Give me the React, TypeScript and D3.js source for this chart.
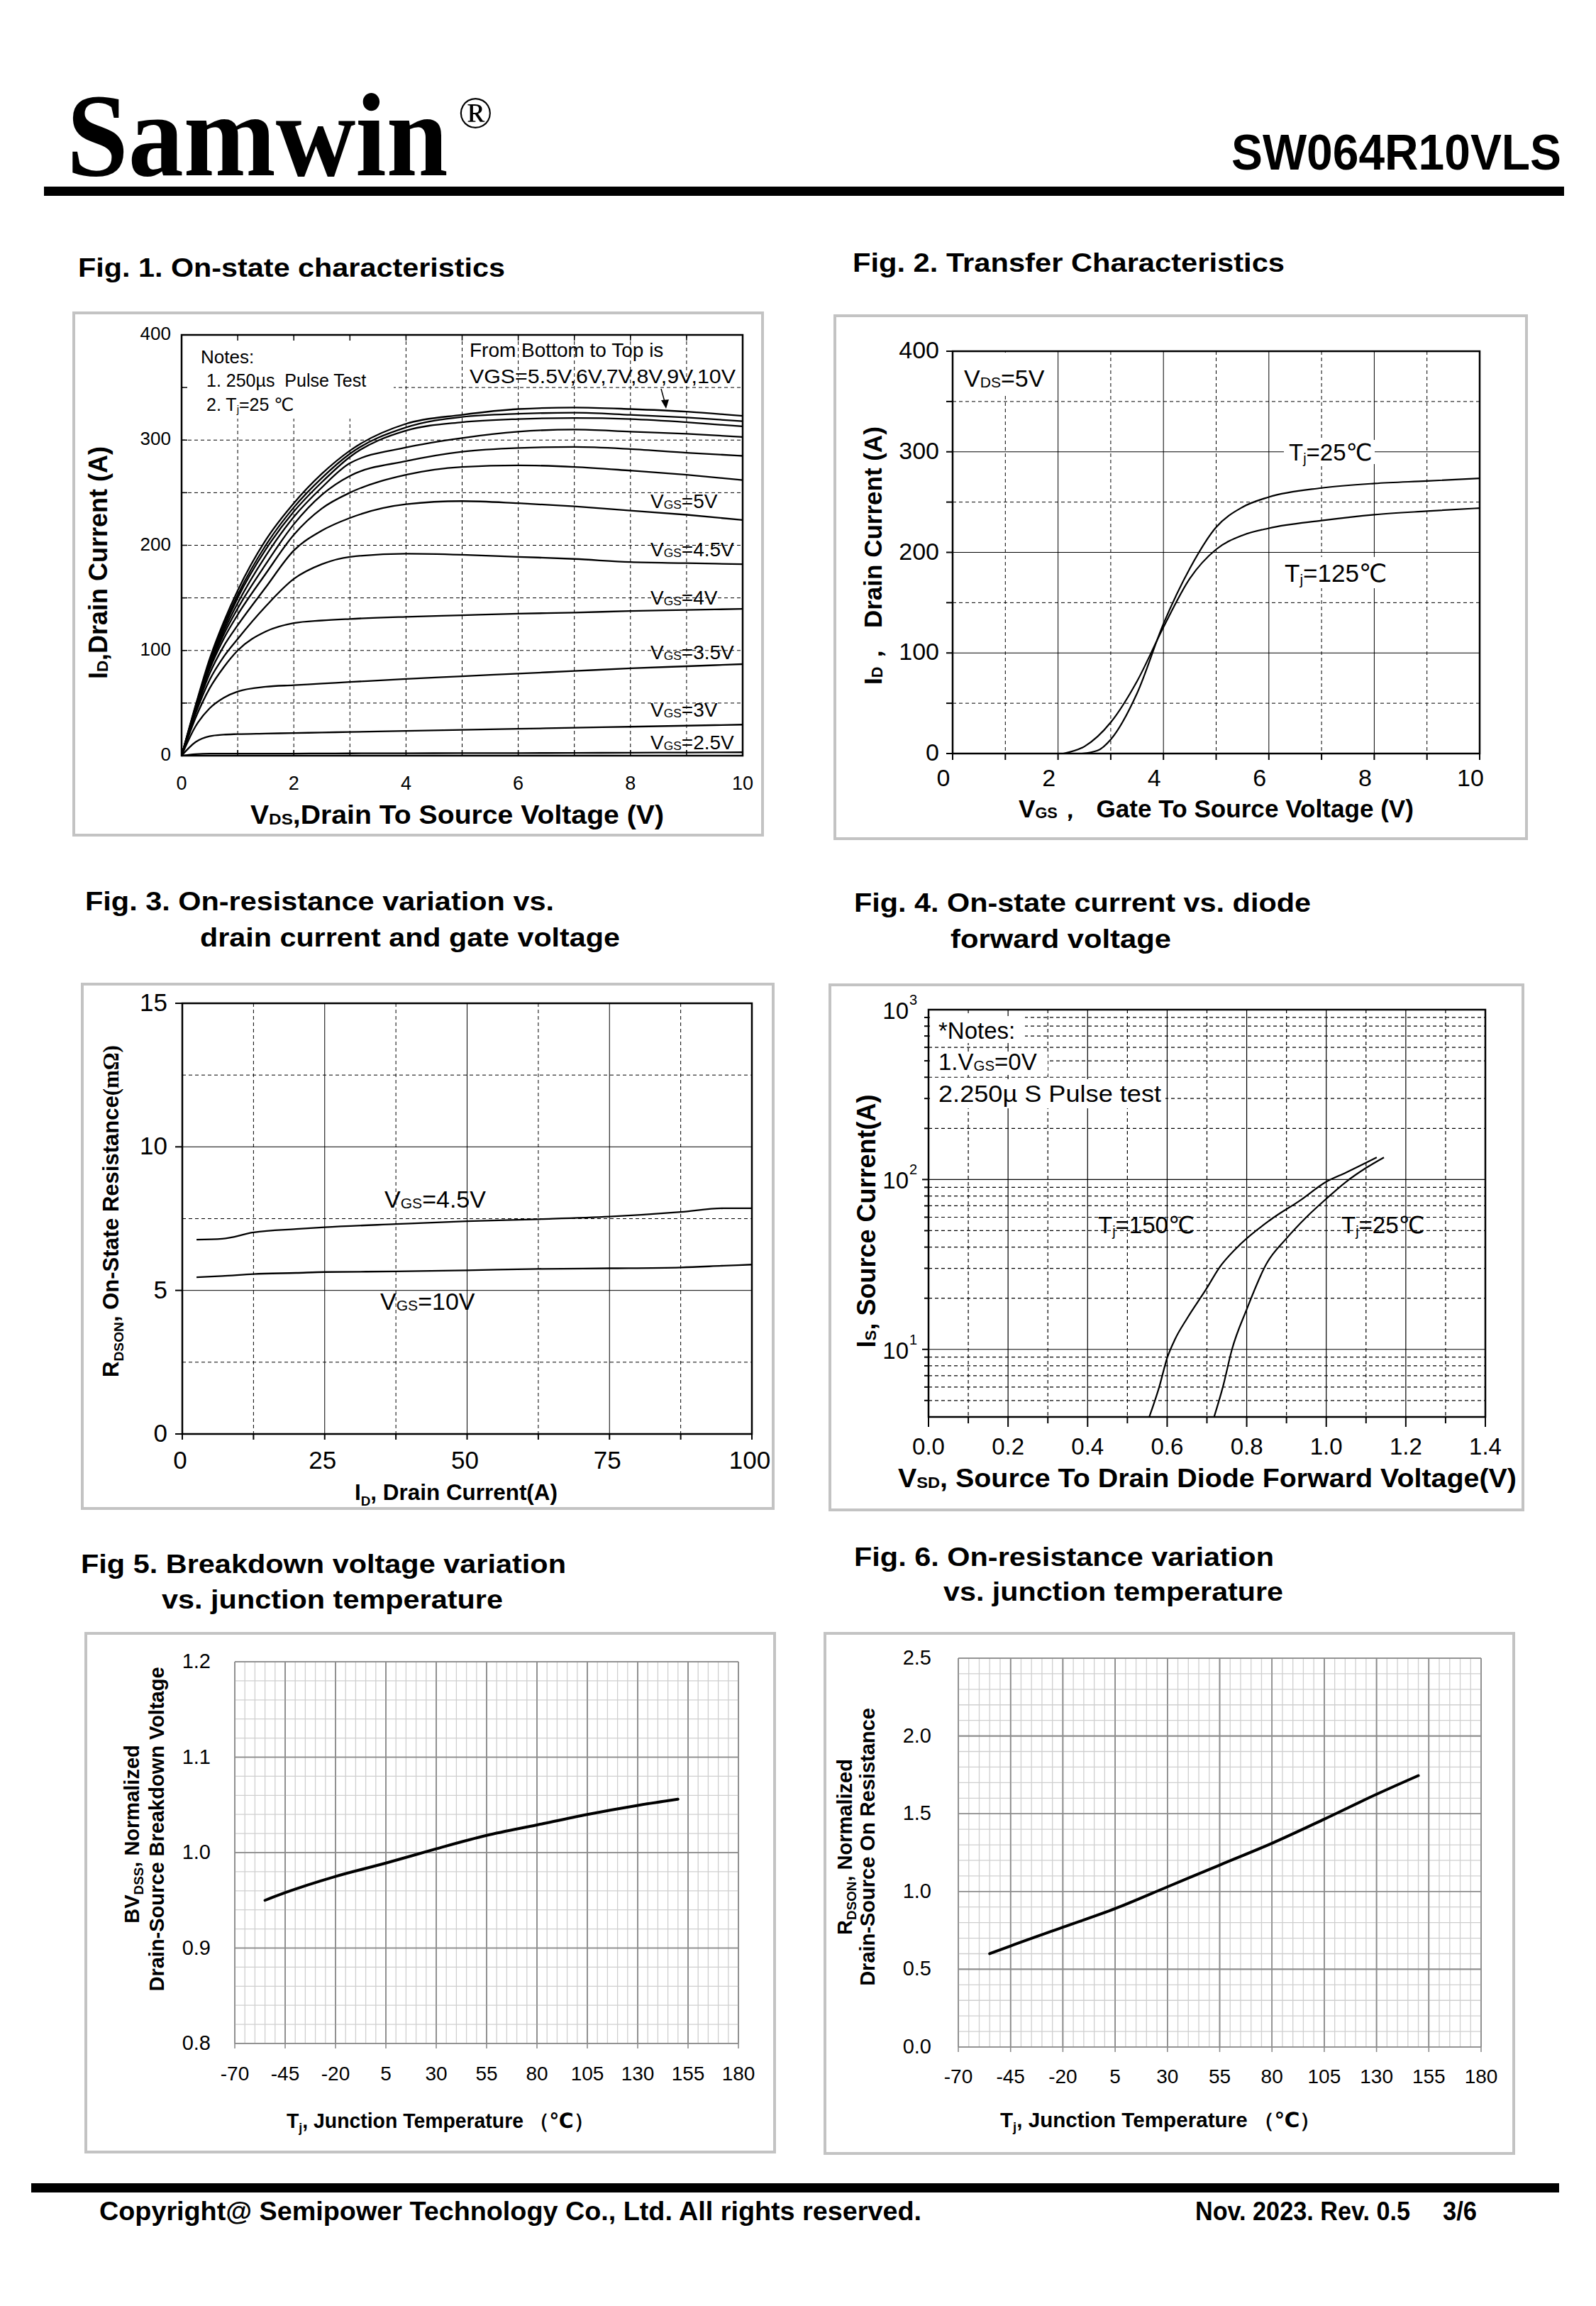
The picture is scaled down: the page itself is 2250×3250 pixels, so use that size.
import React from 'react';
import * as d3 from 'd3';

const SANS = '"Liberation Sans", Arial, Helvetica, "DejaVu Sans", sans-serif';
const SERIF = '"Liberation Serif", "Times New Roman", serif';

// ---------------- Fig 1 data (Id vs Vds) ----------------
const fig1Vds = [0, 0.25, 0.5, 0.75, 1, 1.5, 2, 2.5, 3, 4, 5, 6, 7, 8, 9, 10];
const fig1Id10V = [0, 48, 92, 127, 157, 205, 240, 268, 290, 315.5, 324, 329.5, 331, 329.5, 327, 323];
const fig1Id9V = [0, 47, 90, 124, 153, 200, 236, 264, 287, 312, 322, 325, 326, 324, 321.5, 318];
const fig1Id8V = [0, 46, 88, 121, 150, 196, 232, 260, 284, 309, 317, 320, 321, 320, 317, 313];
const fig1Id7V = [0, 45, 86, 118, 145, 190, 227, 255, 278, 293, 302, 308, 310, 308, 306, 303];
const fig1Id6V = [0, 44, 84, 115, 140, 182, 220, 248, 266, 280, 289, 292.5, 293.5, 291.5, 288, 285];
const fig1Id55V = [0, 43, 82, 111, 134, 173, 210, 235, 250, 267, 274.5, 276, 274.5, 271, 267, 262];
const fig1Id5V = [0, 42, 78, 104, 124, 160, 195, 214, 226, 239, 242, 240, 237, 233, 229, 224];
const fig1Id45V = [0, 40, 72, 94, 111, 142, 168, 182, 189, 192, 191, 189, 187, 184, 183, 182];
const fig1Id4V = [0, 36, 64, 84, 100, 118, 126, 128.5, 130, 132, 133.5, 135, 136, 137.5, 138.5, 139.5];
const fig1Id35V = [0, 28, 45, 55, 61, 65.5, 67, 68.5, 70, 73, 75.5, 78, 80.5, 83, 85, 87];
const fig1Id3V = [0, 13, 18.5, 20, 20.5, 21, 21.5, 22, 22.5, 23.5, 24.5, 25.5, 26.5, 27.5, 28.5, 29.5];
const fig1Id25V = [0, 1.5, 2, 2, 2, 2, 2, 2.1, 2.2, 2.3, 2.4, 2.5, 2.6, 2.8, 3, 3.2];
const fig1Series = [fig1Id10V, fig1Id9V, fig1Id8V, fig1Id7V, fig1Id6V, fig1Id55V, fig1Id5V, fig1Id45V, fig1Id4V, fig1Id35V, fig1Id3V, fig1Id25V];
const fig1Labels = ['5V', '4.5V', '4V', '3.5V', '3V', '2.5V'];
const fig1XTicks = [0, 2, 4, 6, 8, 10];
const fig1YTicks = [0, 100, 200, 300, 400];

// ---------------- Fig 2 data (transfer) ----------------
const fig2Vgs25 = [2.45, 2.75, 3, 3.5, 4, 4.5, 5, 5.5, 6, 7, 8, 9, 10];
const fig2Id25 = [0, 3, 14, 60, 129, 184, 225, 245, 255, 264, 268.5, 271, 273.6];
const fig2Vgs125 = [2.1, 2.5, 3, 3.5, 4, 4.5, 5, 5.5, 6, 7, 8, 9, 10];
const fig2Id125 = [0, 7, 31, 72, 125.6, 174, 203, 217, 224, 231.6, 237.5, 241, 244];
const fig2XTicks = [0, 2, 4, 6, 8, 10];
const fig2YTicks = [0, 100, 200, 300, 400];

// ---------------- Fig 3 data (Rdson vs Id) ----------------
const fig3Id = [2.5, 7, 12.5, 20, 25, 37.5, 50, 62.5, 75, 87.5, 95, 100];
const fig3R45 = [6.77, 6.8, 7.02, 7.14, 7.2, 7.31, 7.41, 7.48, 7.57, 7.73, 7.86, 7.86];
const fig3R10 = [5.46, 5.5, 5.57, 5.61, 5.64, 5.66, 5.7, 5.75, 5.77, 5.8, 5.86, 5.9];
const fig3XTicks = [0, 25, 50, 75, 100];
const fig3YTicks = [0, 5, 10, 15];

// ---------------- Fig 4 data (diode) ----------------
const fig4V150 = [0.555, 0.58, 0.6, 0.62, 0.65, 0.7, 0.73, 0.786, 0.86, 0.935, 1.0, 1.05, 1.127];
const fig4I150 = [4, 6, 8.9, 11.5, 15.2, 23, 30, 42, 58, 75.5, 97, 110, 135];
const fig4V25 = [0.718, 0.74, 0.763, 0.8, 0.85, 0.9, 0.95, 1.0, 1.05, 1.1, 1.145];
const fig4I25 = [4, 6, 10, 17.2, 32, 45, 60, 77, 97, 117, 135];
const fig4XTicks = [0, 0.2, 0.4, 0.6, 0.8, 1.0, 1.2, 1.4];
const fig4YDecades = [1, 2, 3];

// ---------------- Fig 5 / 6 data ----------------
const tempTicks = [-70, -45, -20, 5, 30, 55, 80, 105, 130, 155, 180];
const fig5T = [-55, -45, -20, 5, 30, 55, 80, 105, 130, 150];
const fig5BV = [0.95, 0.958, 0.975, 0.989, 1.004, 1.018, 1.029, 1.04, 1.0495, 1.056];
const fig5YTicks = ['0.8', '0.9', '1.0', '1.1', '1.2'];
const fig6T = [-55, -45, -20, 5, 30, 55, 80, 105, 130, 150];
const fig6R = [0.6, 0.65, 0.77, 0.89, 1.03, 1.17, 1.31, 1.465, 1.625, 1.745];
const fig6YTicks = ['0.0', '0.5', '1.0', '1.5', '2.0', '2.5'];

type Seg = string | [string, 'sub' | 'sup' | 'serif'];

function Txt(p: {
  x: number; y: number; size: number; bold?: boolean; anchor?: string; len?: number; rot?: boolean;
  segs: Seg[]; small?: number; shift?: number; family?: string; fill?: string; baseline?: string; transform?: string;
}) {
  const { x, y, size, bold = false, anchor = 'start', len, rot = false, segs, small = 0.65, shift = 0.12, family = SANS, fill = '#000', baseline } = p;
  let cur = 0;
  const kids = segs.map((s, i) => {
    if (typeof s === 'string') {
      const dy = -cur; cur = 0;
      return <tspan key={i} dy={dy || undefined}>{s}</tspan>;
    }
    const [t, kind] = s;
    if (kind === 'serif') {
      const dy = -cur; cur = 0;
      return <tspan key={i} dy={dy || undefined} fontFamily={SERIF}>{t}</tspan>;
    }
    const target = (kind === 'sub' ? 1 : -1) * shift * size;
    const dy = target - cur; cur = target;
    return <tspan key={i} dy={dy || undefined} fontSize={size * small}>{t}</tspan>;
  });
  return (
    <text x={x} y={y} fontSize={size} fontWeight={bold ? 'bold' : 'normal'} textAnchor={anchor as any}
      fontFamily={family} fill={fill} textLength={len} lengthAdjust={len ? 'spacingAndGlyphs' : undefined}
      dominantBaseline={baseline as any}
      transform={p.transform ? p.transform : rot ? `rotate(-90 ${x} ${y})` : undefined} style={{ whiteSpace: 'pre' }}>{kids}</text>
  );
}

function Box({ x, y, w, h }: { x: number; y: number; w: number; h: number }) {
  return <rect x={x} y={y} width={w} height={h} fill="#fff" stroke="#c3c3c3" strokeWidth={4} />;
}

function Fig1() {
  const x = d3.scaleLinear().domain([0, 10]).range([256, 1047]);
  const y = d3.scaleLinear().domain([0, 400]).range([1065, 472]);
  const line = d3.line<number>().x((_, i) => x(fig1Vds[i])).y(d => y(d)).curve(d3.curveMonotoneX);
  const xs = d3.range(1, 10);
  const ys = d3.range(50, 400, 50);
  const labelY = [716, 784, 852, 929, 1010, 1056];
  return (
    <g>
      <Box x={104} y={441} w={971} h={736} />
      {xs.map(v => <line key={'gx' + v} x1={x(v)} x2={x(v)} y1={y(400)} y2={y(0)} stroke="#000" strokeWidth={1} strokeDasharray="5,4" />)}
      {ys.map(v => <line key={'gy' + v} x1={x(0)} x2={x(10)} y1={y(v)} y2={y(v)} stroke="#000" strokeWidth={1} strokeDasharray="5,4" />)}
      <rect x={258} y={474} width={297} height={116} fill="#fff" />
      {fig1Series.map((s, i) => <path key={'c' + i} d={line(s) || ''} fill="none" stroke="#000" strokeWidth={2.3} />)}
      <rect x={x(0)} y={y(400)} width={x(10) - x(0)} height={y(0) - y(400)} fill="none" stroke="#000" strokeWidth={2.5} />
      {xs.map(v => <g key={'tx' + v}>
        <line x1={x(v)} x2={x(v)} y1={y(0)} y2={y(0) - 8} stroke="#000" strokeWidth={1.5} />
        <line x1={x(v)} x2={x(v)} y1={y(400)} y2={y(400) + 8} stroke="#000" strokeWidth={1.5} />
      </g>)}
      {ys.map(v => <line key={'ty' + v} x1={x(0)} x2={x(0) + 8} y1={y(v)} y2={y(v)} stroke="#000" strokeWidth={1.5} />)}
      {fig1YTicks.map(v => <Txt key={'yl' + v} x={241} y={y(v) - 2} size={26} anchor="end" baseline="central" segs={[String(v)]} />)}
      {fig1XTicks.map(v => <Txt key={'xl' + v} x={x(v)} y={1113} size={27} anchor="middle" segs={[String(v)]} />)}
      <Txt x={353} y={1161} size={36} bold len={583} segs={['V', ['DS', 'sub'], ',Drain To Source Voltage (V)']} small={0.62} shift={0.02} />
      <Txt x={151} y={793} size={36} bold rot anchor="middle" segs={['I', ['D', 'sub'], ',Drain Current (A)']} small={0.62} shift={0.02} />
      <Txt x={283} y={512} size={26} segs={['Notes:']} />
      <Txt x={291} y={545} size={25} segs={['1. 250µs  Pulse Test']} />
      <Txt x={291} y={579} size={25} segs={['2. T', ['j', 'sub'], '=25 ℃']} small={0.6} shift={0.1} />
      <Txt x={662} y={503} size={28} segs={['From Bottom to Top is']} />
      <Txt x={662} y={540} size={28} len={375} segs={['VGS=5.5V,6V,7V,8V,9V,10V']} />
      <line x1={932} y1={548} x2={937} y2={566} stroke="#000" strokeWidth={1.5} />
      <path d="M932,564 L943,563 L939,576 Z" fill="#000" />
      {fig1Labels.map((l, i) => <Txt key={'lb' + i} x={917} y={labelY[i]} size={28} segs={['V', ['GS', 'sub'], '=' + l]} small={0.62} shift={0.03} />)}
    </g>
  );
}

function Fig2() {
  const x = d3.scaleLinear().domain([0, 10]).range([1343, 2086]);
  const y = d3.scaleLinear().domain([0, 400]).range([1062, 495]);
  const l25 = d3.line<number>().x((_, i) => x(fig2Vgs25[i])).y(d => y(d)).curve(d3.curveMonotoneX);
  const l125 = d3.line<number>().x((_, i) => x(fig2Vgs125[i])).y(d => y(d)).curve(d3.curveMonotoneX);
  const xs = d3.range(1, 10);
  const ys = d3.range(50, 400, 50);
  return (
    <g>
      <Box x={1177} y={445} w={975} h={737} />
      {xs.map(v => <line key={'gx' + v} x1={x(v)} x2={x(v)} y1={y(400)} y2={y(0)} stroke="#000" strokeWidth={1}
        strokeDasharray={v % 2 === 0 ? undefined : '5,4'} />)}
      {ys.map(v => <line key={'gy' + v} x1={x(0)} x2={x(10)} y1={y(v)} y2={y(v)} stroke="#000" strokeWidth={1}
        strokeDasharray={v % 100 === 0 ? undefined : '5,4'} />)}
      <rect x={1345} y={497} width={145} height={60} fill="#fff" />
      <rect x={1810} y={620} width={128} height={34} fill="#fff" />
      <rect x={1806} y={785} width={155} height={44} fill="#fff" />
      <path d={l125(fig2Id125) || ''} fill="none" stroke="#000" strokeWidth={2.2} />
      <path d={l25(fig2Id25) || ''} fill="none" stroke="#000" strokeWidth={2.2} />
      <rect x={x(0)} y={y(400)} width={x(10) - x(0)} height={y(0) - y(400)} fill="none" stroke="#000" strokeWidth={2.5} />
      {d3.range(0, 11).map(v => <line key={'tx' + v} x1={x(v)} x2={x(v)} y1={y(0)} y2={y(0) + 9} stroke="#000" strokeWidth={2} />)}
      {d3.range(0, 401, 50).map(v => <line key={'ty' + v} x1={x(0) - 9} x2={x(0)} y1={y(v)} y2={y(v)} stroke="#000" strokeWidth={2} />)}
      {fig2YTicks.map(v => <Txt key={'yl' + v} x={1324} y={y(v) - 2} size={34} anchor="end" baseline="central" segs={[String(v)]} />)}
      {fig2XTicks.map(v => <Txt key={'xl' + v} x={x(v) - 13} y={1108} size={34} anchor="middle" segs={[String(v)]} />)}
      <Txt x={1436} y={1152} size={35} bold len={557} segs={['V', ['GS', 'sub'], '，  Gate To Source Voltage (V)']} small={0.62} shift={0.02} />
      <Txt x={1243} y={783} size={35} bold rot anchor="middle" segs={['I', ['D', 'sub'], '，  Drain Current (A)']} small={0.62} shift={0.02} />
      <Txt x={1359} y={545} size={34} segs={['V', ['DS', 'sub'], '=5V']} small={0.62} shift={0.03} />
      <Txt x={1817} y={649} size={33} segs={['T', ['j', 'sub'], '=25℃']} small={0.6} shift={0.12} />
      <Txt x={1811} y={820} size={35} segs={['T', ['j', 'sub'], '=125℃']} small={0.6} shift={0.12} />
    </g>
  );
}

function Fig3() {
  const x = d3.scaleLinear().domain([0, 100]).range([257, 1060]);
  const y = d3.scaleLinear().domain([0, 15]).range([2021, 1414]);
  const line = d3.line<number>().x((_, i) => x(fig3Id[i])).y(d => y(d)).curve(d3.curveMonotoneX);
  const xs = [12.5, 25, 37.5, 50, 62.5, 75, 87.5];
  const ys = [2.5, 5, 7.5, 10, 12.5];
  return (
    <g>
      <Box x={116} y={1387} w={974} h={739} />
      {xs.map(v => <line key={'gx' + v} x1={x(v)} x2={x(v)} y1={y(15)} y2={y(0)} stroke="#000" strokeWidth={1}
        strokeDasharray={v % 25 === 0 ? undefined : '5,4'} />)}
      {ys.map(v => <line key={'gy' + v} x1={x(0)} x2={x(100)} y1={y(v)} y2={y(v)} stroke="#000" strokeWidth={1}
        strokeDasharray={v % 5 === 0 ? undefined : '5,4'} />)}
      <path d={line(fig3R45) || ''} fill="none" stroke="#000" strokeWidth={2.3} />
      <path d={line(fig3R10) || ''} fill="none" stroke="#000" strokeWidth={2.3} />
      <rect x={x(0)} y={y(15)} width={x(100) - x(0)} height={y(0) - y(15)} fill="none" stroke="#000" strokeWidth={2.5} />
      {d3.range(0, 101, 12.5).map(v => <line key={'tx' + v} x1={x(v)} x2={x(v)} y1={y(0)} y2={y(0) + 8} stroke="#000" strokeWidth={2} />)}
      {fig3YTicks.map(v => <line key={'ty' + v} x1={x(0) - 10} x2={x(0)} y1={y(v)} y2={y(v)} stroke="#000" strokeWidth={2} />)}
      {fig3YTicks.map(v => <Txt key={'yl' + v} x={236} y={y(v) - 2} size={35} anchor="end" baseline="central" segs={[String(v)]} />)}
      {fig3XTicks.map(v => <Txt key={'xl' + v} x={x(v) - 3} y={2070} size={35} anchor="middle" segs={[String(v)]} />)}
      <Txt x={500} y={2114} size={31} bold len={286} segs={['I', ['D', 'sub'], ', Drain Current(A)']} small={0.6} shift={0.25} />
      <Txt x={167} y={1707} size={31} bold rot anchor="middle" segs={['R', ['DSON', 'sub'], ', On-State Resistance', ['(mΩ)', 'serif']]} small={0.62} shift={0.22} />
      <Txt x={542} y={1702} size={34} segs={['V', ['GS', 'sub'], '=4.5V']} small={0.62} shift={0.03} />
      <Txt x={536} y={1846} size={34} segs={['V', ['GS', 'sub'], '=10V']} small={0.62} shift={0.03} />
    </g>
  );
}

function Fig4() {
  const x = d3.scaleLinear().domain([0, 1.4]).range([1309, 2094]);
  const y = d3.scaleLog().domain([4, 1000]).range([1997, 1423]);
  const l150 = d3.line<number>().x((_, i) => x(fig4V150[i])).y(d => y(d)).curve(d3.curveMonotoneX);
  const l25 = d3.line<number>().x((_, i) => x(fig4V25[i])).y(d => y(d)).curve(d3.curveMonotoneX);
  const yTicks = y.ticks().filter(v => v > 4 && v < 1000);
  const xs = d3.range(1, 14).map(i => i / 10);
  const isPow10 = (v: number) => Math.abs(Math.log10(v) - Math.round(Math.log10(v))) < 1e-9;
  return (
    <g>
      <Box x={1170} y={1388} w={977} h={740} />
      {xs.map((v, i) => <line key={'gx' + i} x1={x(v)} x2={x(v)} y1={y(1000)} y2={y(4)} stroke="#000" strokeWidth={1.2}
        strokeDasharray={(i + 1) % 2 === 0 ? undefined : '5,4'} />)}
      {yTicks.map(v => <line key={'gy' + v} x1={x(0)} x2={x(1.4)} y1={y(v)} y2={y(v)} stroke="#000" strokeWidth={1.2}
        strokeDasharray={isPow10(v) ? undefined : '5,4'} />)}
      <rect x={1311} y={1432} width={134} height={38} fill="#fff" />
      <rect x={1311} y={1482} width={166} height={33} fill="#fff" />
      <rect x={1311} y={1521} width={332} height={41} fill="#fff" />
      <path d={l150(fig4I150) || ''} fill="none" stroke="#000" strokeWidth={2.2} />
      <path d={l25(fig4I25) || ''} fill="none" stroke="#000" strokeWidth={2.2} />
      <rect x={x(0)} y={y(1000)} width={x(1.4) - x(0)} height={y(4) - y(1000)} fill="none" stroke="#000" strokeWidth={2.5} />
      {d3.range(0, 15).map(i => <line key={'tx' + i} x1={x(i / 10)} x2={x(i / 10)} y1={y(4)} y2={y(4) + (i % 2 === 0 ? 14 : 9)} stroke="#000" strokeWidth={2} />)}
      {yTicks.map(v => <line key={'ty' + v} x1={x(0) - (isPow10(v) ? 9 : 6)} x2={x(0)} y1={y(v)} y2={y(v)} stroke="#000" strokeWidth={2} />)}
      {fig4YDecades.map(d => <g key={'yl' + d}>
        <Txt x={1281} y={y(Math.pow(10, d)) + 13} size={33} anchor="end" segs={['10']} />
        <Txt x={1282} y={y(Math.pow(10, d)) - 7} size={20} segs={[String(d)]} />
      </g>)}
      {fig4XTicks.map(v => <Txt key={'xl' + v} x={x(v)} y={2050} size={33} anchor="middle" segs={[v.toFixed(1)]} />)}
      <Txt x={1266} y={2096} size={36} bold len={872} segs={['V', ['SD', 'sub'], ', Source To Drain Diode Forward Voltage(V)']} small={0.6} shift={0.02} />
      <Txt x={1234} y={1721} size={36} bold rot anchor="middle" segs={['I', ['S', 'sub'], ', Source Current(A)']} small={0.62} shift={0.02} />
      <Txt x={1323} y={1464} size={33} segs={['*Notes:']} />
      <Txt x={1323} y={1508} size={33} segs={['1.V', ['GS', 'sub'], '=0V']} small={0.62} shift={0.03} />
      <Txt x={1323} y={1553} size={33} len={314} segs={['2.250µ S Pulse test']} />
      <Txt x={1548} y={1738} size={33} segs={['T', ['j', 'sub'], '=150℃']} small={0.6} shift={0.12} />
      <Txt x={1891} y={1738} size={33} segs={['T', ['j', 'sub'], '=25℃']} small={0.6} shift={0.12} />
    </g>
  );
}

function TempFig(p: {
  box: [number, number, number, number]; xr: [number, number]; yr: [number, number]; ydom: [number, number];
  yStep: number; yLabels: string[]; T: number[]; V: number[]; ylabX: number; xlabY: number;
  titleX: number; titleY: number; titleLen: number; yt1: [number, number]; yt2: [number, number];
  ytitle1: Seg[]; ytitle2: Seg[];
}) {
  const x = d3.scaleLinear().domain([-70, 180]).range(p.xr);
  const y = d3.scaleLinear().domain(p.ydom).range(p.yr);
  const line = d3.line<number>().x((_, i) => x(p.T[i])).y(d => y(d)).curve(d3.curveMonotoneX);
  const xsMinor = d3.range(-70, 181, 5);
  const nY = Math.round((p.ydom[1] - p.ydom[0]) / p.yStep);
  const ysMinor = d3.range(0, nY + 1).map(i => p.ydom[0] + i * p.yStep);
  const minor = '#cfcfcf';
  const major = '#8c8c8c';
  return (
    <g>
      <Box x={p.box[0]} y={p.box[1]} w={p.box[2]} h={p.box[3]} />
      {xsMinor.map((v, i) => <line key={'gx' + i} x1={x(v)} x2={x(v)} y1={p.yr[1]} y2={p.yr[0]}
        stroke={i % 5 === 0 ? major : minor} strokeWidth={i % 5 === 0 ? 1.6 : 1.3} />)}
      {ysMinor.map((v, i) => <line key={'gy' + i} x1={p.xr[0]} x2={p.xr[1]} y1={y(v)} y2={y(v)}
        stroke={i % 5 === 0 ? major : minor} strokeWidth={i % 5 === 0 ? 1.6 : 1.3} />)}
      {xsMinor.map((v, i) => i % 5 === 0 ? <line key={'gxm' + i} x1={x(v)} x2={x(v)} y1={p.yr[1]} y2={p.yr[0]} stroke={major} strokeWidth={1.6} /> : null)}
      {ysMinor.map((v, i) => i % 5 === 0 ? <line key={'gym' + i} x1={p.xr[0]} x2={p.xr[1]} y1={y(v)} y2={y(v)} stroke={major} strokeWidth={1.6} /> : null)}
      {tempTicks.map(v => <line key={'tk' + v} x1={x(v)} x2={x(v)} y1={p.yr[0]} y2={p.yr[0] + 7} stroke={major} strokeWidth={1.6} />)}
      <path d={line(p.V) || ''} fill="none" stroke="#000" strokeWidth={4} strokeLinecap="round" />
      {p.yLabels.map(l => <Txt key={'yl' + l} x={p.ylabX} y={y(+l) - 1} size={29} anchor="end" baseline="central" segs={[l]} />)}
      {tempTicks.map(v => <Txt key={'xl' + v} x={x(v)} y={p.xlabY} size={28} anchor="middle" segs={[String(v)]} />)}
      <Txt x={p.titleX} y={p.titleY} size={29} bold len={p.titleLen} segs={['T', ['j', 'sub'], ', Junction Temperature （℃）']} small={0.62} shift={0.2} />
      <Txt x={p.yt1[0]} y={p.yt1[1]} size={29} bold rot anchor="middle" segs={p.ytitle1} small={0.65} shift={0.2} />
      <Txt x={p.yt2[0]} y={p.yt2[1]} size={29} bold rot anchor="middle" segs={p.ytitle2} />
    </g>
  );
}

export default function App() {
  return (
    <svg width={2250} height={3250} viewBox="0 0 2250 3250" style={{ position: 'absolute', left: 0, top: 0, background: '#fff' }}
      fontFamily={SANS}>
      <rect x={0} y={0} width={2250} height={3250} fill="#fff" />
      {/* Header */}
      <Txt x={0} y={0} size={156} bold family={SERIF} transform="translate(94,247) scale(1,1.07)" segs={['Samwin']} />
      <Txt x={646} y={180} size={64} family={SERIF} segs={['®']} />
      <Txt x={1736} y={239} size={70} bold len={465} segs={['SW064R10VLS']} />
      <rect x={62} y={263} width={2143} height={13} fill="#000" />

      {/* Titles */}
      <Txt x={110} y={390} size={37} bold len={602} segs={['Fig. 1. On-state characteristics']} />
      <Txt x={1202} y={383} size={37} bold len={609} segs={['Fig. 2. Transfer Characteristics']} />
      <Txt x={120} y={1283} size={37} bold len={661} segs={['Fig. 3. On-resistance variation vs.']} />
      <Txt x={282} y={1334} size={37} bold len={592} segs={['drain current and gate voltage']} />
      <Txt x={1204} y={1285} size={37} bold len={644} segs={['Fig. 4. On-state current vs. diode']} />
      <Txt x={1340} y={1336} size={37} bold len={311} segs={['forward voltage']} />
      <Txt x={114} y={2217} size={37} bold len={684} segs={['Fig 5. Breakdown voltage variation']} />
      <Txt x={228} y={2267} size={37} bold len={481} segs={['vs. junction temperature']} />
      <Txt x={1204} y={2207} size={37} bold len={592} segs={['Fig. 6. On-resistance variation']} />
      <Txt x={1330} y={2256} size={37} bold len={479} segs={['vs. junction temperature']} />

      <Fig1 />
      <Fig2 />
      <Fig3 />
      <Fig4 />
      <TempFig box={[121, 2302, 971, 731]} xr={[331, 1041]} yr={[2880, 2342]} ydom={[0.8, 1.2]} yStep={0.02}
        yLabels={fig5YTicks} T={fig5T} V={fig5BV} ylabX={297} xlabY={2932}
        titleX={404} titleY={2999} titleLen={433} yt1={[196, 2585]} yt2={[231, 2578]}
        ytitle1={['BV', ['DSS', 'sub'], ', Normalized']} ytitle2={['Drain-Source Breakdown Voltage']} />
      <TempFig box={[1163, 2302, 971, 733]} xr={[1351, 2088]} yr={[2885, 2337]} ydom={[0, 2.5]} yStep={0.1}
        yLabels={fig6YTicks} T={fig6T} V={fig6R} ylabX={1313} xlabY={2936}
        titleX={1410} titleY={2998} titleLen={452} yt1={[1201, 2603]} yt2={[1233, 2603]}
        ytitle1={['R', ['DSON', 'sub'], ', Normalized']} ytitle2={['Drain-Source On Resistance']} />

      {/* Footer */}
      <rect x={44} y={3077} width={2154} height={13} fill="#000" />
      <Txt x={140} y={3129} size={36} bold len={1159} segs={['Copyright@ Semipower Technology Co., Ltd. All rights reserved.']} />
      <Txt x={1685} y={3129} size={36} bold len={303} segs={['Nov. 2023. Rev. 0.5']} />
      <Txt x={2034} y={3129} size={36} bold len={48} segs={['3/6']} />
    </svg>
  );
}
